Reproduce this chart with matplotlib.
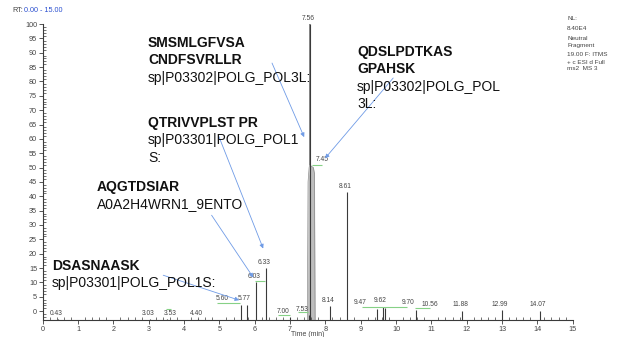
import matplotlib.pyplot as plt
from matplotlib.ticker import MultipleLocator

plt.rcParams['font.family'] = ['Liberation Sans', 'DejaVu Sans']

# Peak apexes: retention time (min) and relative abundance (%)
peak_rt = [0.43, 3.03, 3.53, 4.40, 5.60, 5.77, 6.03, 6.33, 7.00, 7.45, 7.53,
           7.56, 8.14, 8.61, 9.47, 9.62, 9.70, 10.56, 11.88, 12.99, 14.07]
peak_height = [-2.6, -2.6, -2.6, -2.6, 2.3, 2.3, 10.0, 15.0, -1.9, 50.9, -1.2,
               100.0, 1.9, 41.5, 0.9, 1.6, 1.2, 0.5, 0.2, 0.5, 0.2]

# Trace of the big co-eluting peak around 7.5 min
band_rt = [7.49, 7.51, 7.54, 7.555, 7.56, 7.565, 7.60, 7.66, 7.69, 7.71]
band_int = [-3.1, 45, 50, 51, 100, 51, 50.5, 50, 48, -3.1]

# Integration baselines (start, end, level)
baseline_start = [3.50, 4.93, 6.02, 6.67, 7.23, 7.63, 9.04, 10.54]
baseline_end = [3.62, 5.59, 6.30, 7.00, 7.51, 7.91, 10.31, 10.96]
baseline_level = [0.7, 2.8, 10.5, -1.4, -0.3, 50.9, 1.4, 1.0]

# Peptide identifications
pep_bold = [["SMSMLGFVSA", "CNDFSVRLLR"], ["QDSLPDTKAS", "GPAHSK"],
            ["QTRIVVPLST PR"], ["AQGTDSIAR"], ["DSASNAASK"]]
pep_prot = [["sp|P03302|POLG_POL3L:"], ["sp|P03302|POLG_POL", "3L:"],
            ["sp|P03301|POLG_POL1", "S:"], ["A0A2H4WRN1_9ENTO"],
            ["sp|P03301|POLG_POL1S:"]]

info_lines = ["NL:", "8.40E4", "Neutral", "Fragment", "19.00 F: ITMS",
              "+ c ESI d Full", "ms2  MS 3"]

# label nudges in points for crowded peaks
label_dx = {5.60: -13, 7.00: -5, 7.53: -5, 7.45: 11.5, 9.47: -12,
            9.70: 16, 10.56: 10, 3.53: 2}
# text block anchors (time, abundance) and arrows (from, to)
text_pos = [(2.98, 93.3), (8.90, 90.2), (2.98, 65.5), (1.54, 43.2), (0.26, 15.7)]
arrow_from = [(6.49, 86.4), (9.92, 81.2), (4.97, 61.3), (4.78, 33.4), (3.41, 12.5)]
arrow_to = [(7.40, 60.6), (7.99, 53.2), (6.24, 21.8), (5.96, 11.7), (5.56, 3.8)]

fig = plt.figure(figsize=(6.21, 3.37), dpi=100)
ax = fig.add_axes([0.0688, 0.0504, 0.8534, 0.8783])
ax.set_xlim(0, 15)
ax.set_ylim(-3.1, 100)

dark = '#3a3a3a'
for side in ['top', 'right']:
    ax.spines[side].set_visible(False)
for side in ['left', 'bottom']:
    ax.spines[side].set_color(dark)
    ax.spines[side].set_linewidth(0.8)

ax.xaxis.set_major_locator(MultipleLocator(1))
ax.xaxis.set_minor_locator(MultipleLocator(0.2))
ax.yaxis.set_major_locator(MultipleLocator(5))
ax.yaxis.set_minor_locator(MultipleLocator(1))
ax.tick_params(which='major', direction='out', length=3, width=0.6,
               color=dark, labelsize=5.2, labelcolor='#444444', pad=1)
ax.tick_params(which='minor', direction='in', length=2, width=0.5, color=dark)

# chromatogram
ax.fill_between(band_rt, band_int, -3.1, color='#bdbdbd', lw=0)
ax.plot(band_rt, band_int, color='#8a8a8a', lw=0.5)
for rt, h in zip(peak_rt, peak_height):
    if rt != 7.45:
        ax.vlines(rt, -3.1, h, color=dark, lw=0.8)
    ax.annotate(f"{rt:.2f}", (rt, h), xytext=(label_dx.get(rt, -1.5), 4),
                textcoords='offset points', ha='center', va='center',
                fontsize=4.8, color='#444444', annotation_clip=False)

ax.hlines(baseline_level, baseline_start, baseline_end, color='#86d186', lw=0.8)

# identifications with arrows
for bold, prot, (tx, ty), a0, a1 in zip(pep_bold, pep_prot, text_pos,
                                         arrow_from, arrow_to):
    ax.annotate("", xy=a1, xytext=a0,
                arrowprops=dict(arrowstyle='-|>', color='#6f9be6', lw=0.6,
                                mutation_scale=6, shrinkA=0, shrinkB=0))
    lines = [(s, 'bold') for s in bold] + [(s, 'normal') for s in prot]
    for i, (s, w) in enumerate(lines):
        ax.text(tx, ty - i * 6.0, s, fontsize=10, fontweight=w,
                color='#111111', ha='left', va='center')

ax.text(7.5, -8.0, "Time (min)", fontsize=5, color='#444444',
        ha='center', va='center', clip_on=False)

fig.text(12 / 621, 1 - 10 / 337, "RT:", fontsize=5.2, color='#444444', va='center')
fig.text(24 / 621, 1 - 10 / 337, "0.00 - 15.00", fontsize=5.2, color='#2a4fd0',
         va='center')

info_y = [18, 28, 38, 46, 54, 62, 69]
for s, y in zip(info_lines, info_y):
    fig.text(567 / 621, 1 - y / 337, s, fontsize=4.6, color='#444444', va='center')

fig.savefig('out.png', dpi=100, facecolor='white')
